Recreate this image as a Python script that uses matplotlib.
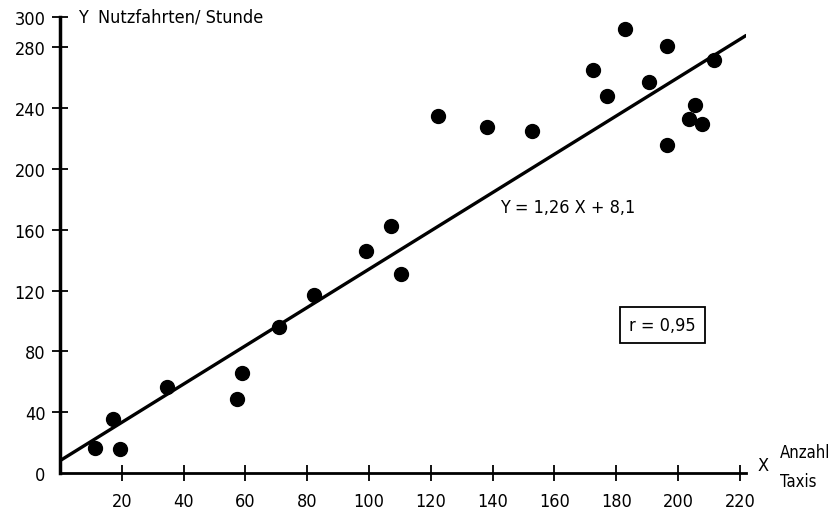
import matplotlib.pyplot as plt

plt.rcParams["font.family"] = ["DejaVu Sans"]
plt.rcParams["font.stretch"] = "condensed"

# Anzahl Taxis (x) vs. Nutzfahrten pro Stunde (y)
taxis = [11.3, 17.2, 19.4, 34.6, 57.3, 58.9, 70.9, 82.2, 99.0, 107.0, 110.4,
         122.3, 138.2, 152.8, 172.5, 177.0, 182.8, 190.6, 196.4, 196.4, 203.6,
         205.5, 207.8, 211.7]
fahrten = [16.5, 35.5, 15.8, 56.6, 48.7, 65.8, 96.0, 117.0, 146.0, 162.5, 131.0,
           235.0, 227.6, 225.0, 265.0, 248.0, 292.0, 257.0, 281.0, 216.0, 233.0,
           242.0, 229.6, 272.0]

slope = 1.26
intercept = 8.1
line_x = [0, 222]

xticks = [20, 40, 60, 80, 100, 120, 140, 160, 180, 200, 220]
yticks = [0, 40, 80, 120, 160, 200, 240, 280, 300]

fig = plt.figure(figsize=(8.31, 5.10), dpi=100)
ax = fig.add_axes([60 / 831, 36 / 510, 686 / 831, 456 / 510])

ax.plot(taxis, fahrten, "o", color="black", markersize=10)
ax.plot(line_x, [slope * x + intercept for x in line_x], color="black",
        linewidth=2.4, solid_capstyle="round")

ax.set_xlim(0, 222)
ax.set_ylim(0, 300)
ax.set_xticks(xticks)
ax.set_yticks(yticks)
ax.spines["top"].set_visible(False)
ax.spines["right"].set_visible(False)
ax.spines["left"].set_linewidth(2.5)
ax.spines["bottom"].set_linewidth(2.0)
ax.tick_params(axis="both", direction="inout", length=11, width=1.3,
               labelsize=13)
ax.tick_params(axis="x", pad=8)
ax.tick_params(axis="y", pad=5)
ax.yaxis.get_major_ticks()[0].tick1line.set_visible(False)

ax.text(5.8, 300.5, "Y  Nutzfahrten/ Stunde", fontsize=13, va="center",
        ha="left", clip_on=False)
ax.text(142.4, 175, "Y = 1,26 X + 8,1", fontsize=13, va="center", ha="left")
ax.text(195, 97.4, "r = 0,95", fontsize=13, va="center", ha="center",
        bbox=dict(boxstyle="square,pad=0.5", fc="white", ec="black", lw=1.3))
ax.text(227.5, 5, "X", fontsize=13, va="center", ha="center", clip_on=False)
ax.text(233, 14, "Anzahl", fontsize=12, va="center", ha="left", clip_on=False)
ax.text(233, -5, "Taxis", fontsize=12, va="center", ha="left", clip_on=False)

fig.savefig("out.png", dpi=100)
